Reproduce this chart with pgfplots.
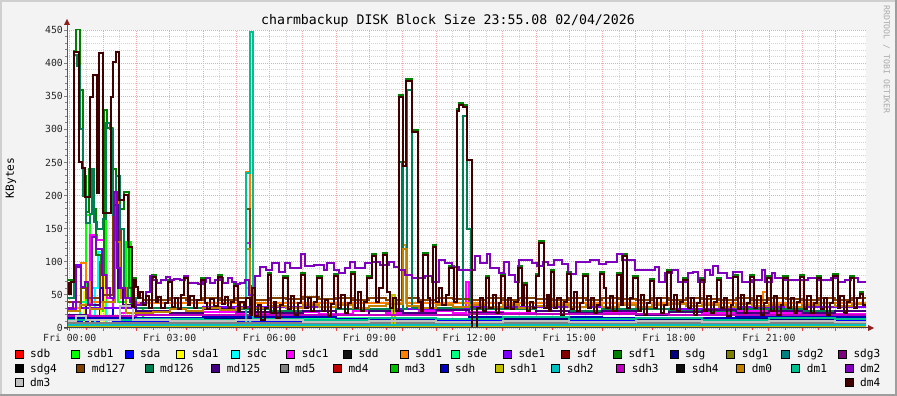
\documentclass[border=0pt]{standalone}
\usepackage{fontspec}
\setmainfont{DejaVu Sans Mono}
\usepackage{pgfplots}
\pgfplotsset{compat=1.18}

\definecolor{bgc}{HTML}{F3F3F3}
\definecolor{csdb}{HTML}{FF0000}
\definecolor{csdb1}{HTML}{00FF00}
\definecolor{csda}{HTML}{0000FF}
\definecolor{csda1}{HTML}{FFFF00}
\definecolor{csdc}{HTML}{00FFFF}
\definecolor{csdc1}{HTML}{FF00FF}
\definecolor{csdd}{HTML}{111111}
\definecolor{csdd1}{HTML}{FF8000}
\definecolor{csde}{HTML}{00FF80}
\definecolor{csde1}{HTML}{8000FF}
\definecolor{csdf}{HTML}{800000}
\definecolor{csdf1}{HTML}{008000}
\definecolor{csdg}{HTML}{000080}
\definecolor{csdg1}{HTML}{808000}
\definecolor{csdg2}{HTML}{008080}
\definecolor{csdg3}{HTML}{800080}
\definecolor{csdg4}{HTML}{000000}
\definecolor{cmd127}{HTML}{804000}
\definecolor{cmd126}{HTML}{008050}
\definecolor{cmd125}{HTML}{400080}
\definecolor{cmd5}{HTML}{808080}
\definecolor{cmd4}{HTML}{C00000}
\definecolor{cmd3}{HTML}{00C000}
\definecolor{csdh}{HTML}{0000C0}
\definecolor{csdh1}{HTML}{C0C000}
\definecolor{csdh2}{HTML}{00C0C0}
\definecolor{csdh3}{HTML}{C000C0}
\definecolor{csdh4}{HTML}{0D0D0D}
\definecolor{cdm0}{HTML}{C08000}
\definecolor{cdm1}{HTML}{00C090}
\definecolor{cdm2}{HTML}{8000C0}
\definecolor{cdm3}{HTML}{C0C0C0}
\definecolor{cdm4}{HTML}{400000}
\definecolor{mgrid}{HTML}{F2A8A8}
\definecolor{ngrid}{HTML}{D2D2D2}

\begin{document}
\begin{tikzpicture}[x=1pt,y=1pt]
\fill[bgc] (0,0) rectangle (897,396);
\useasboundingbox (0,0) rectangle (897,396);
\draw[line width=2pt,color={rgb,255:red,207;green,207;blue,207}] (1,0) -- (1,395) -- (897,395);
\draw[line width=2pt,color={rgb,255:red,158;green,158;blue,158}] (0,1) -- (896,1) -- (896,396);

\begin{axis}[
  at={(67pt,68pt)}, anchor=south west,
  scale only axis, width=799pt, height=298pt,
  xmin=-0.083, xmax=23.917, ymin=0, ymax=450,
  axis background/.style={fill=white},
  axis line style={draw=none},
  xtick={0,1,...,23},
  xticklabels={Fri 00:00,,,Fri 03:00,,,Fri 06:00,,,Fri 09:00,,,Fri 12:00,,,Fri 15:00,,,Fri 18:00,,,Fri 21:00,,},
  minor x tick num=1,
  ytick={0,50,...,450},
  minor y tick num=4,
  grid=both,
  major grid style={draw=mgrid, dash pattern=on 1pt off 1pt, line width=0.7pt},
  minor grid style={draw=ngrid, dash pattern=on 1pt off 1pt, line width=0.7pt},
  tick align=outside, tick pos=left,
  major tick length=3pt, minor tick length=2pt,
  xtick style={draw=red!75, line width=0.8pt},
  ytick style={draw=gray, line width=0.8pt},
  tick label style={font=\fontsize{9.8}{10}\selectfont, text=black!85, inner sep=1pt},
  xticklabel style={yshift=-1.5pt},
  /pgf/number format/assume math mode=true,
  every axis plot/.append style={const plot, mark=none, line width=2pt},
]
% sdb
\addplot[csdb] coordinates {(-0.083,1) (6,2) (12,1) (18,2) (23.917,1)};
% sdb1
\addplot[csdb1] coordinates {(-0.083,20) (0.48,171) (0.6,60) (0.9,25) (1.1,302) (1.3,90) (1.45,40) (1.7,130) (1.85,30) (2.2,3) (23.917,3)};
% sda
\addplot[csda] coordinates {(-0.083,11) (0.9,60) (1.0,30) (1.3,11) (6,10) (12,11) (18,10) (23.917,11)};
% sda1
\addplot[csda1] coordinates {(-0.083,5) (0.43,55) (0.6,5) (0.95,80) (1.05,5) (9.68,50) (9.78,5) (23.917,5)};
% sdc
\addplot[csdc] coordinates {(-0.083,7) (0.75,60) (0.85,115) (1.0,40) (1.1,8) (5.3,60) (5.4,8) (9,9) (14,7) (19,8) (23.917,8)};
% sdc1
\addplot[csdc1] coordinates {(-0.083,20) (0.6,140) (0.83,133) (1.03,80) (1.13,45) (1.3,30) (1.5,22) (2.0,25) (3.0,22) (4.0,24) (5.0,22) (5.3,128) (5.42,60) (5.5,22) (6.5,24) (7.5,21) (8.5,25) (9.5,22) (10.5,26) (11.5,22) (11.9,70) (12.0,24) (13.0,22) (14.0,25) (15.0,22) (16.0,24) (17.0,21) (18.0,24) (19.0,22) (20.0,25) (21.0,22) (22.0,24) (23.0,21) (23.917,21)};
% sdd1
\addplot[csdd1] coordinates {(-0.083,30) (0.35,98) (0.5,70) (0.6,40) (1.33,198) (1.45,120) (1.55,45) (2.0,38) (5.3,236) (5.4,38) (9.98,125) (10.1,38) (20.83,55) (20.93,38) (23.917,38)};
% sde
\addplot[csde] coordinates {(-0.083,14) (0.3,40) (0.5,14) (5,15) (10,14) (15,15) (20,14) (23.917,14)};
% sde1
\addplot[csde1] coordinates {(-0.083,28) (0.2,95) (0.35,30) (0.9,100) (1.0,30) (4,31) (8,29) (12,31) (16,29) (20,31) (23.917,30)};
% sdf1
\addplot[csdf1] coordinates {(-0.083,72) (0.12,418) (0.18,452) (0.30,359) (0.41,230) (0.50,175) (0.58,240) (0.71,180) (0.80,110) (0.95,80) (1.02,329) (1.13,302) (1.28,240) (1.38,120) (1.50,180) (1.63,205) (1.78,60) (1.88,35) (1.93,75) (1.98,62) (2.05,45) (2.12,55) (2.20,35) (2.28,48) (2.38,30) (2.46,80) (2.58,40) (2.66,47) (2.75,30) (2.85,38) (2.94,73) (3.07,32) (3.15,45) (3.25,28) (3.33,50) (3.42,78) (3.55,35) (3.62,48) (3.72,30) (3.82,42) (3.93,75) (4.05,38) (4.13,28) (4.22,44) (4.32,33) (4.44,80) (4.58,36) (4.66,47) (4.76,30) (4.85,40) (4.93,67) (5.05,25) (5.12,40) (5.22,30) (5.30,45) (5.40,20) (5.47,63) (5.57,18) (5.66,35) (5.75,12) (5.85,30) (5.94,83) (6.04,22) (6.12,40) (6.20,15) (6.30,35) (6.42,78) (6.56,28) (6.64,48) (6.74,20) (6.85,38) (6.96,83) (7.08,30) (7.16,45) (7.26,25) (7.34,40) (7.44,78) (7.58,25) (7.66,42) (7.75,18) (7.85,36) (7.95,82) (8.07,30) (8.16,50) (8.26,22) (8.35,38) (8.46,85) (8.56,30) (8.65,55) (8.75,25) (8.84,40) (8.94,79) (9.08,112) (9.20,40) (9.30,60) (9.42,113) (9.54,55) (9.62,30) (9.70,45) (9.80,25) (9.88,352) (10.01,244) (10.11,376) (10.28,299) (10.47,40) (10.55,25) (10.60,113) (10.75,45) (10.82,30) (10.90,126) (11.00,40) (11.08,60) (11.18,35) (11.30,50) (11.40,94) (11.55,40) (11.63,330) (11.70,340) (11.80,337) (11.93,254) (12.08,0) (12.23,30) (12.32,45) (12.42,25) (12.50,79) (12.60,30) (12.70,50) (12.80,22) (12.88,38) (12.96,82) (13.06,30) (13.15,45) (13.25,28) (13.35,40) (13.47,94) (13.57,35) (13.64,68) (13.72,25) (13.82,40) (13.92,30) (14.00,82) (14.10,132) (14.25,30) (14.33,50) (14.40,25) (14.46,87) (14.56,30) (14.65,45) (14.75,20) (14.85,40) (14.94,85) (15.06,28) (15.15,55) (15.25,25) (15.33,38) (15.42,82) (15.57,30) (15.65,45) (15.75,22) (15.85,35) (15.93,85) (16.05,60) (16.12,30) (16.22,48) (16.32,25) (16.44,83) (16.56,35) (16.62,112) (16.74,30) (16.82,45) (16.92,78) (17.07,25) (17.15,50) (17.25,20) (17.35,38) (17.43,74) (17.55,30) (17.65,45) (17.75,22) (17.85,35) (17.94,87) (18.06,28) (18.15,50) (18.25,25) (18.33,40) (18.42,75) (18.57,30) (18.65,45) (18.75,20) (18.85,38) (18.93,76) (19.05,25) (19.15,48) (19.25,22) (19.35,40) (19.44,75) (19.56,30) (19.65,45) (19.75,18) (19.85,35) (19.92,80) (20.07,28) (20.15,50) (20.25,22) (20.35,38) (20.43,80) (20.55,30) (20.65,48) (20.75,20) (20.85,38) (20.94,79) (21.06,25) (21.15,48) (21.25,20) (21.35,35) (21.42,79) (21.57,30) (21.65,45) (21.75,22) (21.85,40) (21.93,80) (22.05,28) (22.15,48) (22.25,22) (22.35,38) (22.44,79) (22.56,28) (22.65,45) (22.75,20) (22.85,38) (22.92,81) (23.07,30) (23.15,48) (23.25,22) (23.35,40) (23.43,79) (23.55,30) (23.65,45) (23.75,55) (23.82,35) (23.917,35)};
% sdg
\addplot[csdg] coordinates {(-0.083,13) (3,14) (7,12) (11,14) (15,13) (19,14) (23.917,13)};
% md127
\addplot[cmd127] coordinates {(-0.083,40) (0.35,60) (0.5,45) (0.9,95) (1.0,50) (1.3,200) (1.43,150) (1.55,60) (1.75,45) (2.2,42) (3.0,45) (3.5,42) (4.0,46) (4.5,43) (5.0,45) (5.3,180) (5.4,42) (6.0,46) (6.5,44) (7.0,47) (7.5,44) (8.0,46) (8.5,43) (9.0,45) (9.5,42) (9.98,250) (10.12,45) (10.5,42) (11.0,46) (11.5,44) (12.0,42) (12.5,45) (13.0,43) (13.5,46) (14.0,44) (14.5,42) (15.0,45) (15.5,43) (16.0,46) (16.5,44) (17.0,42) (17.5,45) (18.0,43) (18.5,46) (19.0,44) (19.5,42) (20.0,45) (20.5,43) (21.0,46) (21.5,44) (22.0,42) (22.5,45) (23.0,43) (23.5,45) (23.917,45)};
% md126
\addplot[cmd126] coordinates {(-0.083,45) (0.12,412) (0.22,395) (0.30,300) (0.40,200) (0.48,158) (0.60,172) (0.66,240) (0.72,160) (0.82,150) (1.00,165) (1.08,310) (1.20,300) (1.30,170) (1.40,230) (1.50,150) (1.62,60) (1.75,45) (2.00,30) (4.0,28) (6.0,26) (8.0,28) (9.88,250) (10.0,28) (10.12,360) (10.28,30) (11.8,320) (11.93,150) (12.05,28) (14.0,26) (16.0,28) (18.0,26) (20.0,28) (22.0,26) (23.917,27)};
% md125
\addplot[cmd125] coordinates {(-0.083,20) (0.5,35) (0.9,60) (1.0,40) (1.33,185) (1.45,60) (1.6,35) (2.0,25) (3.0,22) (4.0,28) (5.0,24) (6.0,22) (7.0,26) (8.0,20) (9.0,25) (10.0,22) (11.0,27) (12.0,23) (13.0,21) (14.0,26) (15.0,22) (16.0,25) (17.0,20) (18.0,24) (19.0,27) (20.0,22) (21.0,25) (22.0,23) (23.0,26) (23.917,26)};
% md5
\addplot[cmd5] coordinates {(-0.083,7) (6,8) (12,7) (18,8) (23.917,7)};
% sdh
\addplot[csdh] coordinates {(-0.083,15) (4,16) (8,14) (12,16) (16,15) (20,16) (23.917,15)};
% sdh1
\addplot[csdh1] coordinates {(-0.083,3) (9.68,50) (9.78,3) (23.917,3)};
% sdh2
\addplot[csdh2] coordinates {(-0.083,4) (6,5) (12,4) (18,5) (23.917,4)};
% sdh3
\addplot[csdh3] coordinates {(-0.083,18) (2.0,20) (6.0,19) (12.0,21) (18.0,19) (23.917,20)};
% dm0
\addplot[cdm0] coordinates {(-0.083,25) (0.3,35) (0.6,28) (1.0,40) (1.35,130) (1.5,60) (1.7,22) (2.5,24) (3.0,28) (3.5,25) (4.0,30) (4.5,27) (5.0,30) (5.3,120) (5.4,30) (6.0,33) (6.5,30) (7.0,34) (7.5,31) (8.0,35) (8.5,30) (9.0,33) (9.5,36) (10.0,120) (10.12,33) (10.5,30) (11.0,34) (11.5,31) (12.0,35) (12.5,32) (13.0,34) (13.5,30) (14.0,33) (14.5,35) (15.0,31) (15.5,34) (16.0,32) (16.5,35) (17.0,31) (17.5,34) (18.0,36) (18.5,33) (19.0,35) (19.5,32) (20.0,36) (20.5,33) (21.0,35) (21.5,32) (22.0,35) (22.5,37) (23.0,33) (23.5,36) (23.917,36)};
% dm1
\addplot[cdm1] coordinates {(-0.083,12) (2.0,14) (4.0,12) (5.3,234) (5.4,447) (5.49,14) (7.0,12) (9.0,15) (11.0,13) (13.0,16) (15.0,13) (17.0,15) (19.0,12) (21.0,15) (23.0,13) (23.917,13)};
% dm2
\addplot[cdm2] coordinates {(-0.083,30) (0.10,40) (0.18,92) (0.33,62) (0.45,70) (0.55,35) (0.68,137) (0.80,120) (0.98,80) (1.10,60) (1.20,45) (1.33,205) (1.42,90) (1.50,60) (1.65,45) (1.80,40) (2.00,35) (2.15,38) (2.30,55) (2.40,78) (2.50,72) (2.62,68) (2.75,72) (2.88,77) (3.00,72) (3.12,74) (3.30,72) (3.45,78) (3.55,68) (3.70,68) (3.85,66) (4.00,70) (4.10,75) (4.20,68) (4.35,72) (4.50,76) (4.60,68) (4.75,76) (4.88,70) (5.00,66) (5.12,68) (5.25,72) (5.38,50) (5.55,78) (5.70,92) (5.88,88) (6.08,98) (6.28,85) (6.48,98) (6.63,90) (6.96,112) (7.08,93) (7.33,95) (7.63,88) (7.73,98) (7.93,88) (8.08,83) (8.28,90) (8.43,100) (8.58,90) (8.88,98) (9.08,100) (9.33,95) (9.58,100) (9.73,92) (9.88,87) (10.08,80) (10.28,75) (10.68,78) (10.88,70) (11.08,102) (11.28,98) (11.48,92) (11.68,88) (12.18,108) (12.33,98) (12.53,111) (12.63,90) (12.88,83) (13.03,100) (13.18,80) (13.38,70) (13.48,103) (13.88,98) (14.03,93) (14.20,100) (14.35,95) (14.55,102) (14.78,97) (14.98,82) (15.22,100) (15.62,102) (15.90,97) (16.10,100) (16.43,112) (16.58,102) (16.98,88) (17.58,92) (17.70,70) (17.88,83) (18.08,88) (18.28,70) (18.58,83) (18.73,85) (18.88,70) (19.08,88) (19.23,80) (19.33,93) (19.48,83) (19.73,75) (19.93,85) (20.18,70) (20.48,72) (20.78,88) (20.88,70) (21.08,83) (21.18,75) (21.48,73) (21.98,72) (22.18,75) (22.48,72) (22.88,75) (23.08,70) (23.28,72) (23.48,75) (23.68,70) (23.917,70)};
% dm3
\addplot[cdm3] coordinates {(-0.083,10) (0.2,18) (0.5,12) (1.5,33) (1.9,12) (3.0,10) (5.0,12) (7.0,9) (9.0,11) (11.0,9) (13.0,11) (15.0,9) (17.0,11) (19.0,9) (21.0,11) (23.0,9) (23.917,9)};
% dm4
\addplot[cdm4] coordinates {(-0.083,68) (-0.02,52) (0.03,70) (0.12,417) (0.27,251) (0.38,242) (0.45,198) (0.61,349) (0.70,382) (0.81,204) (0.88,415) (1.00,173) (1.23,349) (1.31,402) (1.38,417) (1.49,193) (1.63,201) (1.76,123) (1.88,32) (1.93,72) (1.98,62) (2.05,45) (2.12,55) (2.20,35) (2.28,48) (2.38,30) (2.46,77) (2.58,40) (2.66,47) (2.75,30) (2.85,38) (2.94,70) (3.07,32) (3.15,45) (3.25,28) (3.33,50) (3.42,75) (3.55,35) (3.62,48) (3.72,30) (3.82,42) (3.93,72) (4.05,38) (4.13,28) (4.22,44) (4.32,33) (4.44,77) (4.58,36) (4.66,47) (4.76,30) (4.85,40) (4.93,64) (5.05,25) (5.12,40) (5.22,30) (5.30,45) (5.40,20) (5.47,60) (5.57,18) (5.66,35) (5.75,12) (5.85,30) (5.94,80) (6.04,22) (6.12,40) (6.20,15) (6.30,35) (6.42,75) (6.56,28) (6.64,48) (6.74,20) (6.85,38) (6.96,80) (7.08,30) (7.16,45) (7.26,25) (7.34,40) (7.44,75) (7.58,25) (7.66,42) (7.75,18) (7.85,36) (7.95,79) (8.07,30) (8.16,50) (8.26,22) (8.35,38) (8.46,82) (8.56,30) (8.65,55) (8.75,25) (8.84,40) (8.94,76) (9.08,109) (9.20,40) (9.30,60) (9.42,110) (9.54,55) (9.62,30) (9.70,45) (9.80,25) (9.88,349) (10.01,244) (10.11,373) (10.28,296) (10.47,40) (10.55,25) (10.60,110) (10.75,45) (10.82,30) (10.90,123) (11.00,40) (11.08,60) (11.18,35) (11.30,50) (11.40,91) (11.55,40) (11.63,327) (11.70,337) (11.80,334) (11.93,254) (12.08,0) (12.23,30) (12.32,45) (12.42,25) (12.50,76) (12.60,30) (12.70,50) (12.80,22) (12.88,38) (12.96,79) (13.06,30) (13.15,45) (13.25,28) (13.35,40) (13.47,91) (13.57,35) (13.64,65) (13.72,25) (13.82,40) (13.92,30) (14.00,79) (14.10,129) (14.25,30) (14.33,50) (14.40,25) (14.46,84) (14.56,30) (14.65,45) (14.75,20) (14.85,40) (14.94,82) (15.06,28) (15.15,55) (15.25,25) (15.33,38) (15.42,79) (15.57,30) (15.65,45) (15.75,22) (15.85,35) (15.93,82) (16.05,60) (16.12,30) (16.22,48) (16.32,25) (16.44,80) (16.56,35) (16.62,109) (16.74,30) (16.82,45) (16.92,75) (17.07,25) (17.15,50) (17.25,20) (17.35,38) (17.43,71) (17.55,30) (17.65,45) (17.75,22) (17.85,35) (17.94,84) (18.06,28) (18.15,50) (18.25,25) (18.33,40) (18.42,72) (18.57,30) (18.65,45) (18.75,20) (18.85,38) (18.93,73) (19.05,25) (19.15,48) (19.25,22) (19.35,40) (19.44,72) (19.56,30) (19.65,45) (19.75,18) (19.85,35) (19.92,77) (20.07,28) (20.15,50) (20.25,22) (20.35,38) (20.43,77) (20.55,30) (20.65,48) (20.75,20) (20.85,38) (20.94,76) (21.06,25) (21.15,48) (21.25,20) (21.35,35) (21.42,76) (21.57,30) (21.65,45) (21.75,22) (21.85,40) (21.93,77) (22.05,28) (22.15,48) (22.25,22) (22.35,38) (22.44,76) (22.56,28) (22.65,45) (22.75,20) (22.85,38) (22.92,78) (23.07,30) (23.15,48) (23.25,22) (23.35,40) (23.43,76) (23.55,30) (23.65,45) (23.75,52) (23.82,35) (23.917,35)};
\end{axis}

% axes with arrows
\draw[line width=1pt, color=black!65] (67,66) -- (67,371);
\fill[color={rgb,255:red,140;green,30;blue,30}] (64,371) -- (70,371) -- (67,377) -- cycle;
\draw[line width=1pt, color=black!75] (64,68) -- (868,68);
\fill[color={rgb,255:red,140;green,30;blue,30}] (868,65) -- (868,71) -- (874,68) -- cycle;

% title, y label, watermark
\node[anchor=base, font=\fontsize{13.2}{14}\selectfont, inner sep=0pt] at (448,371.5) {charmbackup DISK Block Size 23:55.08 02/04/2026};
\node[rotate=90, anchor=center, font=\fontsize{11.2}{12}\selectfont, inner sep=0pt] at (11,218) {KBytes};
\node[rotate=-90, anchor=west, font=\fontsize{8.2}{9}\selectfont, inner sep=0pt, text={rgb,255:red,170;green,170;blue,170}] at (886.5,391) {RRDTOOL / TOBI OETIKER};

% legend
\foreach \xx/\yy/\cc/\nn in {
 15/358/csdb/sdb, 71.7/358/csdb1/sdb1, 125/358/csda/sda, 176.7/358/csda1/sda1,
 231.7/358/csdc/sdc, 286.7/358/csdc1/sdc1, 343.3/358/csdd/sdd, 400/358/csdd1/sdd1,
 451.7/358/csde/sde, 503.3/358/csde1/sde1, 561.7/358/csdf/sdf, 613.3/358/csdf1/sdf1,
 670/358/csdg/sdg, 726.7/358/csdg1/sdg1, 781.7/358/csdg2/sdg2, 838.3/358/csdg3/sdg3,
 15/372.3/csdg4/sdg4, 76.7/372.3/cmd127/md127, 145/372.3/cmd126/md126, 211.7/372.3/cmd125/md125,
 280/372.3/cmd5/md5, 333.3/372.3/cmd4/md4, 390/372.3/cmd3/md3, 440/372.3/csdh/sdh,
 495/372.3/csdh1/sdh1, 551.7/372.3/csdh2/sdh2, 616.7/372.3/csdh3/sdh3, 676.7/372.3/csdh4/sdh4,
 736.7/372.3/cdm0/dm0, 791.7/372.3/cdm1/dm1, 845/372.3/cdm2/dm2,
 15/386.7/cdm3/dm3, 845/386.7/cdm4/dm4}
{
 \filldraw[fill=\cc, draw=black, line width=0.8pt] (\xx,{396-\yy}) rectangle ++(8,8);
 \node[anchor=base west, inner sep=0pt, font=\fontsize{11.1}{12}\selectfont] at (\xx+15,{396-\yy}) {\nn};
}
\end{tikzpicture}
\end{document}
